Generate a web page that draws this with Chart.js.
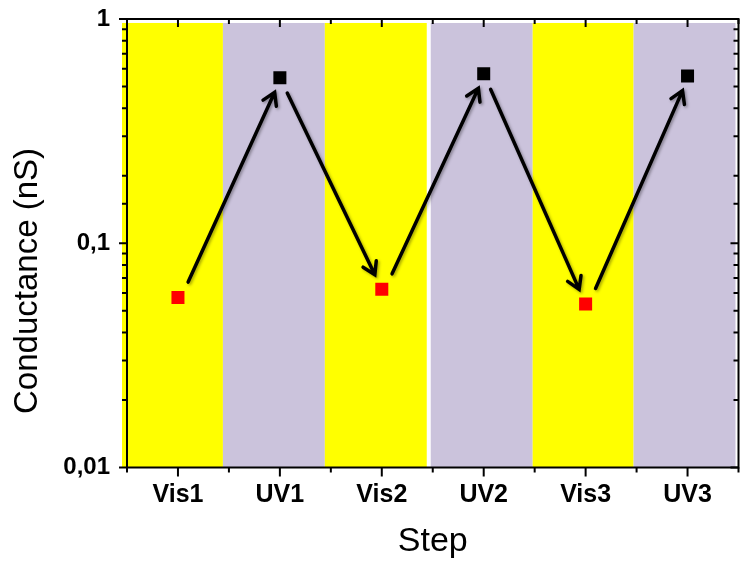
<!DOCTYPE html>
<html>
<head>
<meta charset="utf-8">
<script src="https://cdn.jsdelivr.net/npm/chart.js@4.4.0/dist/chart.umd.min.js"></script>
<style>
  html, body { margin: 0; padding: 0; background: #fff; }
  #wrap { width: 749px; height: 562px; }
</style>
</head>
<body>
<div id="wrap"><canvas id="conductanceChart" width="749" height="562"></canvas></div>
<script>
// Steps and measured conductance (nS)
const steps = ['Vis1', 'UV1', 'Vis2', 'UV2', 'Vis3', 'UV3'];
const conductance = [0.0573, 0.547, 0.0624, 0.570, 0.0536, 0.557];
const yTickValues = [0.01, 0.1, 1];
const yTickLabels = ['0,01', '0,1', '1'];

// colours per step (visible light = yellow, UV = lilac)
const bandColors = ['#ffff00', '#cbc3dc', '#ffff00', '#cbc3dc', '#ffff00', '#cbc3dc'];
const pointColors = ['#ff0000', '#000000', '#ff0000', '#000000', '#ff0000', '#000000'];

// small pixel nudges so the bands sit like in the original figure
const bandLeftNudge = [-5, -6, -6, -2, -2, -3];
const bandRightNudge = [-6, -6, -6, -2, -3, -3];
const BAND_TOP = 0.96;

const FONT = "'Liberation Sans', Arial, sans-serif";

// Background bands behind the points
const bandsPlugin = {
  id: 'bands',
  beforeDatasetsDraw(chart) {
    const { ctx, scales: { x, y } } = chart;
    const half = (x.getPixelForValue(1) - x.getPixelForValue(0)) / 2;
    const top = y.getPixelForValue(BAND_TOP);
    const bottom = y.bottom;
    ctx.save();
    steps.forEach((s, i) => {
      const c = x.getPixelForValue(i);
      const l = c - half + bandLeftNudge[i];
      const r = c + half + bandRightNudge[i];
      ctx.fillStyle = bandColors[i];
      ctx.fillRect(l, top, r - l, bottom - top);
    });
    ctx.restore();
  }
};

// Arrows going from each point to the next one
function drawArrow(ctx, x1, y1, x2, y2) {
  const ang = Math.atan2(y2 - y1, x2 - x1);
  const head = 14, spread = 0.55;
  ctx.beginPath();
  ctx.moveTo(x1, y1);
  ctx.lineTo(x2, y2);
  ctx.moveTo(x2 - head * Math.cos(ang - spread), y2 - head * Math.sin(ang - spread));
  ctx.lineTo(x2, y2);
  ctx.lineTo(x2 - head * Math.cos(ang + spread), y2 - head * Math.sin(ang + spread));
  ctx.stroke();
}

const arrowsPlugin = {
  id: 'arrows',
  afterDatasetsDraw(chart) {
    const { ctx, scales: { x, y } } = chart;
    const trimStart = 17, trimEnd = 16, sideShift = 3;
    ctx.save();
    ctx.strokeStyle = '#000';
    ctx.lineWidth = 3.5;
    ctx.lineCap = 'round';
    ctx.lineJoin = 'miter';
    ctx.shadowColor = 'rgba(0,0,0,0.35)';
    ctx.shadowBlur = 3;
    ctx.shadowOffsetX = 1.5;
    ctx.shadowOffsetY = 1.5;
    for (let i = 0; i < conductance.length - 1; i++) {
      const ax = x.getPixelForValue(i), ay = y.getPixelForValue(conductance[i]);
      const bx = x.getPixelForValue(i + 1), by = y.getPixelForValue(conductance[i + 1]);
      const len = Math.hypot(bx - ax, by - ay);
      const ux = (bx - ax) / len, uy = (by - ay) / len;
      // rising arrows sit a little to the right of the straight line
      const s = uy < 0 ? sideShift : 0;
      drawArrow(ctx,
        ax + ux * trimStart + s, ay + uy * trimStart,
        bx - ux * trimEnd + s / 2, by - uy * trimEnd);
    }
    ctx.restore();
  }
};

// Frame, tick marks and the y-axis title
const framePlugin = {
  id: 'frame',
  afterDraw(chart) {
    const { ctx, chartArea: a, scales: { x, y } } = chart;
    const seg = (x1, y1, x2, y2) => { ctx.beginPath(); ctx.moveTo(x1, y1); ctx.lineTo(x2, y2); ctx.stroke(); };
    ctx.save();
    ctx.strokeStyle = '#000';
    ctx.lineWidth = 2;
    ctx.strokeRect(a.left, a.top, a.right - a.left, a.bottom - a.top);

    const half = (x.getPixelForValue(1) - x.getPixelForValue(0)) / 2;
    steps.forEach((s, i) => {
      const px = x.getPixelForValue(i);
      seg(px, a.bottom, px, a.bottom + 9);
      seg(px, a.top, px, a.top + 8);
    });
    for (let i = 0; i <= steps.length; i++) {
      const px = x.getPixelForValue(0) - half + 2 * half * i;
      seg(px, a.bottom, px, a.bottom + 5);
      seg(px, a.top, px, a.top + 5);
    }

    y.ticks.forEach(t => {
      const py = y.getPixelForValue(t.value);
      const lg = Math.log10(t.value);
      const len = Math.abs(lg - Math.round(lg)) < 1e-6 ? 8 : 5;
      seg(a.left - len, py, a.left, py);
      seg(a.right - len, py, a.right, py);
    });

    ctx.fillStyle = '#000';
    ctx.font = '33px ' + FONT;
    ctx.textAlign = 'center';
    ctx.textBaseline = 'middle';
    ctx.translate(28, 281);
    ctx.rotate(-Math.PI / 2);
    ctx.fillText('Conductance (nS)', 0, 0);
    ctx.restore();
  }
};

const ctx = document.getElementById('conductanceChart').getContext('2d');
const chart = new Chart(ctx, {
  type: 'line',
  data: {
    labels: steps,
    datasets: [{
      label: 'Conductance',
      data: conductance,
      showLine: false,
      pointStyle: 'rect',
      pointRadius: 9.2,
      pointBorderWidth: 0,
      pointBackgroundColor: pointColors,
      pointBorderColor: pointColors
    }]
  },
  options: {
    responsive: false,
    animation: false,
    layout: { padding: { top: 19, right: 10.5, bottom: 0, left: 0 } },
    plugins: {
      legend: { display: false },
      tooltip: { enabled: false }
    },
    scales: {
      x: {
        type: 'category',
        offset: true,
        grid: { display: false, drawTicks: false },
        border: { display: false },
        ticks: {
          color: '#000',
          padding: 13,
          font: { family: FONT, size: 25, weight: 'bold' }
        },
        title: {
          display: true,
          text: 'Step',
          color: '#000',
          padding: { top: 0, bottom: 0 },
          font: { family: FONT, size: 34 }
        },
        afterFit(scale) {
          scale.height = 94.5;
          scale.paddingLeft = 0;
          scale.paddingRight = 0;
        }
      },
      y: {
        type: 'logarithmic',
        min: 0.01,
        max: 1,
        grid: { display: false, drawTicks: false },
        border: { display: false },
        ticks: {
          autoSkip: false,
          color: '#000',
          padding: 17,
          font: { family: FONT, size: 24, weight: 'bold' },
          callback(value) {
            const idx = yTickValues.findIndex(v => Math.abs(v - value) < 1e-9);
            return idx >= 0 ? yTickLabels[idx] : '';
          }
        },
        afterFit(scale) {
          scale.width = 127;
          scale.paddingTop = 0;
          scale.paddingBottom = 0;
        }
      }
    }
  },
  plugins: [bandsPlugin, arrowsPlugin, framePlugin]
});
</script>
</body>
</html>
